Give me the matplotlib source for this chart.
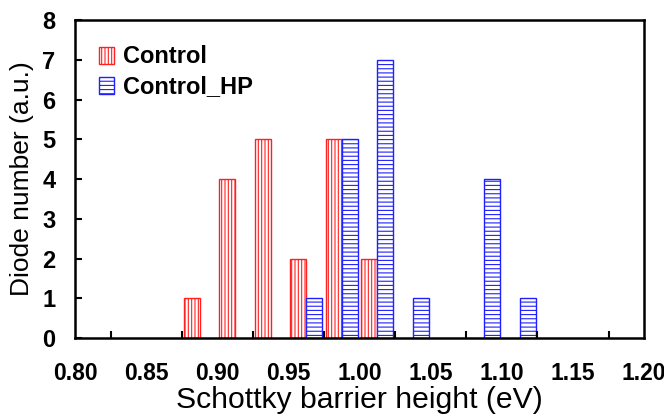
import numpy as np
import matplotlib.pyplot as plt
from matplotlib.patches import Patch

plt.rcParams['font.family'] = ['Liberation Sans', 'DejaVu Sans']
plt.rcParams['hatch.linewidth'] = 0.8

# histogram bins (eV), 0.025 wide, left edges
bin_left = [0.800, 0.825, 0.850, 0.875, 0.900, 0.925, 0.950, 0.975,
            1.000, 1.025, 1.050, 1.075, 1.100, 1.125, 1.150, 1.175]
control = [0, 0, 0, 1, 4, 5, 2, 5, 2, 0, 0, 0, 0, 0, 0, 0]
control_hp = [0, 0, 0, 0, 0, 0, 1, 5, 7, 1, 0, 4, 1, 0, 0, 0]
bin_w = 0.025
xticks = [0.80, 0.85, 0.90, 0.95, 1.00, 1.05, 1.10, 1.15, 1.20]

red = '#ff2020'
blue = '#2020ff'

fig = plt.figure(figsize=(6.64, 4.18), dpi=100)
ax = fig.add_axes([0.113, 0.191, 0.857, 0.761])

bw = 0.45 * bin_w
for left, c, h in zip(bin_left, control, control_hp):
    if c > 0:
        ax.bar(left + 0.05 * bin_w, c, bw, align='edge', color='white',
               edgecolor=red, hatch='|||||', lw=1)
    if h > 0:
        ax.bar(left + 0.05 * bin_w + bw, h, bw, align='edge', color='white',
               edgecolor=blue, hatch='----', lw=1)

ax.set_xlim(0.80, 1.20)
ax.set_ylim(0, 8)
ax.set_xticks(xticks)
ax.set_xticklabels([f'{t:.2f}' for t in xticks])
ax.set_xticks(bin_left + [1.20], minor=True)
ax.set_yticks(range(9))

for s in ax.spines.values():
    s.set_linewidth(1.8)
ax.tick_params(axis='x', which='both', direction='in', length=5, width=1.5,
               pad=17, labelsize=16.5)
ax.tick_params(axis='x', which='major', length=0)
ax.tick_params(axis='y', direction='in', length=5, width=1.5, pad=14, labelsize=17)
for lab in ax.get_xticklabels() + ax.get_yticklabels():
    lab.set_fontweight('bold')

ax.set_xlabel('Schottky barrier height (eV)', fontsize=21.7, labelpad=1)
ax.set_ylabel('Diode number (a.u.)', fontsize=19, labelpad=6)

handles = [Patch(facecolor='white', edgecolor=red, hatch='|||||', label='Control'),
           Patch(facecolor='white', edgecolor=blue, hatch='----', label='Control_HP')]
ax.legend(handles=handles, loc='upper left', bbox_to_anchor=(0.025, 0.95),
          frameon=False, prop={'weight': 'bold', 'size': 17},
          handlelength=0.65, handleheight=0.75, handletextpad=0.4,
          labelspacing=0.3, borderaxespad=0)

fig.savefig('out.png', dpi=100)
